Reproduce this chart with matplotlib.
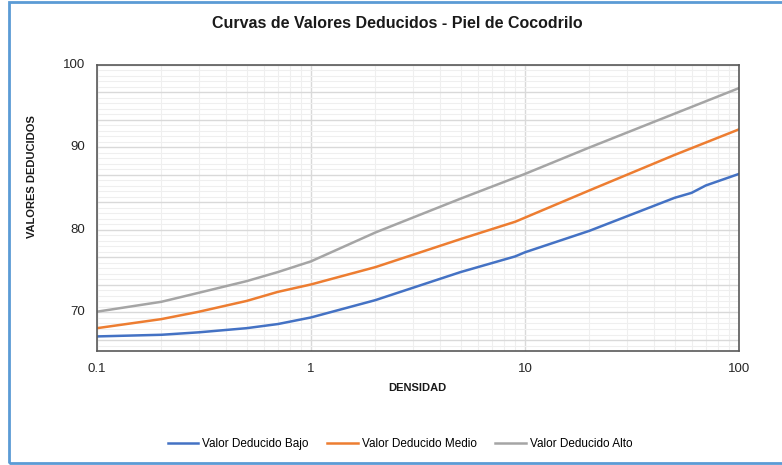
import numpy as np
import matplotlib.pyplot as plt
from matplotlib.patches import Rectangle

# densidad (log) y valores deducidos
dens_bajo = [0.1, 0.2, 0.3, 0.5, 0.7, 1, 2, 5, 9, 10, 20, 50, 60, 70, 100]
vd_bajo = [67.1, 67.3, 67.6, 68.1, 68.6, 69.4, 71.5, 74.9, 76.8, 77.3, 79.9, 83.9, 84.5, 85.4, 86.8]

dens_medio = [0.1, 0.2, 0.3, 0.5, 0.7, 1, 2, 5, 9, 10, 20, 50, 100]
vd_medio = [68.1, 69.2, 70.1, 71.4, 72.5, 73.4, 75.5, 78.9, 81.0, 81.5, 84.8, 89.1, 92.2]

dens_alto = [0.1, 0.2, 0.3, 0.5, 0.7, 1, 2, 5, 10, 20, 50, 100]
vd_alto = [70.1, 71.3, 72.4, 73.8, 74.9, 76.2, 79.7, 83.8, 86.8, 90.0, 94.1, 97.2]

ytick_vals = [70, 80, 90, 100]
xtick_vals = [0.1, 1, 10, 100]
xtick_labels = ["0.1", "1", "10", "100"]

plt.rcParams['font.family'] = ["Liberation Sans", "DejaVu Sans"]

fig = plt.figure(figsize=(7.82, 4.65), dpi=100)
W, H = 782, 465
ax = fig.add_axes([97/W, 1-351/H, (739-97)/W, (351-65)/H])

ax.plot(dens_bajo, vd_bajo, color="#4472c4", lw=1.8, label="Valor Deducido Bajo")
ax.plot(dens_medio, vd_medio, color="#ed7d31", lw=1.8, label="Valor Deducido Medio")
ax.plot(dens_alto, vd_alto, color="#a5a5a5", lw=1.8, label="Valor Deducido Alto")

ax.set_xscale("log")
ax.set_xlim(0.1, 100)
ax.set_ylim(66, 100)

# rejilla
ax.set_yticks(np.arange(100, 65, -10/3), minor=False)
ax.set_yticks(np.arange(100, 65, -10/15), minor=True)
ax.grid(which="major", axis="y", color="#d9d9d9", lw=1)
ax.grid(which="minor", axis="y", color="#efefef", lw=0.8)
ax.grid(which="major", axis="x", color="#d9d9d9", lw=1)
ax.grid(which="minor", axis="x", color="#efefef", lw=0.8)
ax.set_axisbelow(True)

ax.set_yticklabels([])
ax.set_xticks(xtick_vals)
ax.set_xticklabels([])
ax.tick_params(which="both", length=0)

for s in ax.spines.values():
    s.set_color("#595959")
    s.set_linewidth(1.2)

for v in ytick_vals:
    ax.text(-0.018, v, str(v), transform=ax.get_yaxis_transform(), ha="right", va="center",
            fontsize=9.5, color="#262626")
for v, t in zip(xtick_vals, xtick_labels):
    ax.text(v, -0.063, t, transform=ax.get_xaxis_transform(), ha="center", va="center",
            fontsize=9.5, color="#262626")

fig.text(397/W, 1-23/H, "Curvas de Valores Deducidos - Piel de Cocodrilo", ha="center", va="center",
         fontsize=11.5, fontweight="bold", color="#1a1a1a")
fig.text(32/W, 1-177/H, "VALORES DEDUCIDOS", rotation=90, ha="center", va="center",
         fontsize=8, fontweight="bold", color="#1a1a1a")
fig.text(417/W, 1-388/H, "DENSIDAD", ha="center", va="center",
         fontsize=8, fontweight="bold", color="#1a1a1a")

fig.legend(loc="center", bbox_to_anchor=(400/W, 1-444/H), ncol=3, frameon=False,
           fontsize=8.5, handlelength=2.6, columnspacing=1.6, handletextpad=0.3)

fig.patches.append(Rectangle((9/W, 2/H), 1.1, 1-4/H, transform=fig.transFigure,
                             fill=False, edgecolor="#5b9bd5", lw=2))

fig.savefig("out.png", dpi=100)
